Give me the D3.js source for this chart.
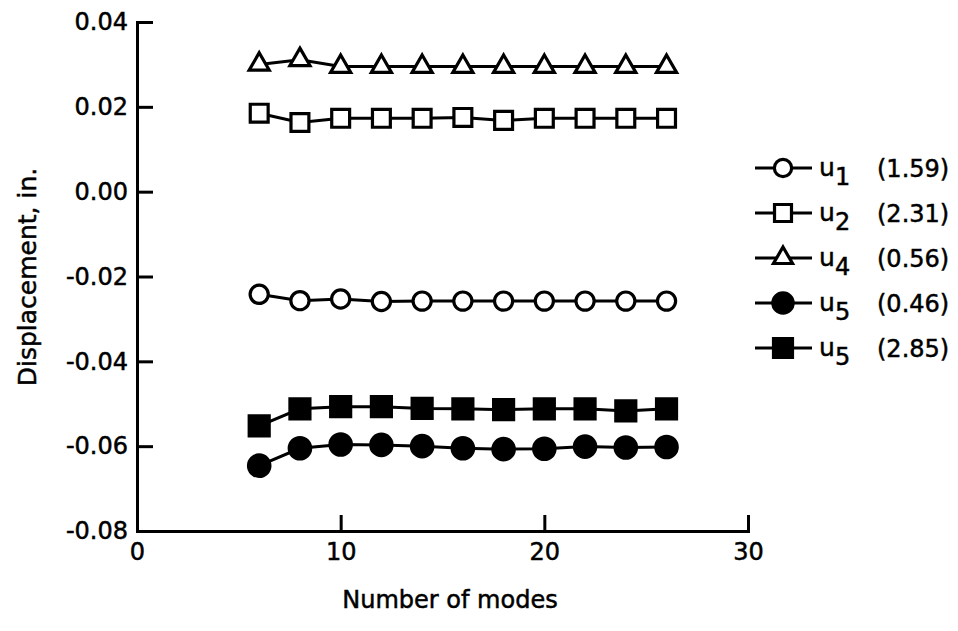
<!DOCTYPE html>
<html>
<head>
    <meta charset="utf-8"/>
    <style>
        body{
            margin: 0;
            background: #fff;
        }
        text{
            font-family: "DejaVu Sans", sans-serif;
            fill: #000;
            stroke: #000;
            stroke-width: 0.5;
        }
        .axis path, .axis line{
            stroke: #000;
            stroke-width: 3;
        }
        .axis text{
            font-size: 24px;
        }
        .series-line{
            fill: none;
            stroke: #000;
            stroke-width: 3;
        }
    </style>
</head>
<body>
<svg id="graph" width="958" height="631"></svg>

<script src="https://d3js.org/d3.v7.min.js"></script>
<script>
    // Number of modes (x values shared by every curve)
    const modes = [6, 8, 10, 12, 14, 16, 18, 20, 22, 24, 26];
    // Displacement values, in.
    const u1_159 = [-0.0242, -0.0257, -0.0253, -0.0259, -0.0258, -0.0258, -0.0258, -0.0258, -0.0258, -0.0258, -0.0258];
    const u2_231 = [0.0185, 0.0163, 0.0173, 0.0173, 0.0173, 0.0175, 0.0168, 0.0173, 0.0173, 0.0173, 0.0173];
    const u4_056 = [0.0300, 0.0311, 0.0295, 0.0295, 0.0295, 0.0295, 0.0295, 0.0295, 0.0295, 0.0295, 0.0295];
    const u5_046 = [-0.0646, -0.0605, -0.0596, -0.0597, -0.0600, -0.0605, -0.0607, -0.0606, -0.0601, -0.0603, -0.0602];
    const u5_285 = [-0.0552, -0.0512, -0.0507, -0.0507, -0.0511, -0.0512, -0.0514, -0.0512, -0.0512, -0.0517, -0.0512];
    // Legend labels
    const legendSubs = ['1', '2', '4', '5', '5'];
    const legendNotes = ['(1.59)', '(2.31)', '(0.56)', '(0.46)', '(2.85)'];
    // Tick values
    const xTicks = [0, 10, 20, 30];
    const yTicks = [0.04, 0.02, 0.00, -0.02, -0.04, -0.06, -0.08];

    // marker style for each series, same order as the legend
    var series = [
        {values: u1_159, type: d3.symbolCircle, size: 260, fill: '#fff'},
        {values: u2_231, type: d3.symbolSquare, size: 320, fill: '#fff'},
        {values: u4_056, type: d3.symbolTriangle, size: 175, fill: '#fff'},
        {values: u5_046, type: d3.symbolCircle, size: 360, fill: '#000'},
        {values: u5_285, type: d3.symbolSquare, size: 400, fill: '#000'}
    ];

    var plotLeft = 137, plotRight = 748, plotTop = 22, plotBottom = 531;

    var svg = d3.select('#graph');

    var xScale = d3.scaleLinear().domain([0, 30]).range([plotLeft, plotRight]);
    var yScale = d3.scaleLinear().domain([-0.08, 0.04]).range([plotBottom, plotTop]);

    // y axis, ticks pointing into the plot
    svg.append('g')
        .attr('class', 'axis')
        .attr('transform', 'translate(' + plotLeft + ',0)')
        .call(d3.axisLeft(yScale)
            .tickValues(yTicks)
            .tickSizeInner(-16)
            .tickSizeOuter(0)
            .tickPadding(9)
            .tickFormat(function(d){ return d.toFixed(2); }));

    // x axis, ticks pointing up
    var xAxis = svg.append('g')
        .attr('class', 'axis')
        .attr('transform', 'translate(0,' + plotBottom + ')')
        .call(d3.axisBottom(xScale)
            .tickValues(xTicks)
            .tickSizeInner(-16)
            .tickSizeOuter(0)
            .tickPadding(12)
            .tickFormat(d3.format('d')));
    // no tick mark at 0 (it sits on the y axis)
    xAxis.selectAll('.tick').filter(function(d){ return d === 0; }).select('line').remove();
    svg.selectAll('.axis path').attr('stroke-linecap', 'square');

    // axis titles
    svg.append('text')
        .attr('x', 450)
        .attr('y', 608)
        .attr('text-anchor', 'middle')
        .style('font-size', '24px')
        .text('Number of modes');

    svg.append('text')
        .attr('transform', 'translate(36,277) rotate(-90)')
        .attr('text-anchor', 'middle')
        .style('font-size', '25px')
        .text('Displacement, in.');

    var line = d3.line()
        .x(function(d, i){ return xScale(modes[i]); })
        .y(function(d){ return yScale(d); });

    // curves and markers
    series.forEach(function(s){
        svg.append('path')
            .attr('class', 'series-line')
            .attr('d', line(s.values));
        svg.selectAll(null)
            .data(s.values)
            .enter().append('path')
            .attr('transform', function(d, i){
                return 'translate(' + xScale(modes[i]) + ',' + yScale(d) + ')';
            })
            .attr('d', d3.symbol().type(s.type).size(s.size))
            .attr('fill', s.fill)
            .attr('stroke', '#000')
            .attr('stroke-width', 3.2);
    });

    // legend
    var legend = svg.append('g').attr('id', 'legend');
    series.forEach(function(s, i){
        var ly = 168 + i * 45;
        var row = legend.append('g').attr('transform', 'translate(0,' + ly + ')');
        row.append('line')
            .attr('x1', 755).attr('x2', 812)
            .attr('stroke', '#000').attr('stroke-width', 3);
        row.append('path')
            .attr('transform', 'translate(783,0)')
            .attr('d', d3.symbol().type(s.type).size(s.size * 0.9))
            .attr('fill', s.fill)
            .attr('stroke', '#000')
            .attr('stroke-width', 3.2);
        row.append('text')
            .attr('x', 819).attr('y', 8)
            .style('font-size', '25px')
            .text('u');
        row.append('text')
            .attr('x', 835).attr('y', 17)
            .style('font-size', '24px')
            .text(legendSubs[i]);
        row.append('text')
            .attr('x', 877).attr('y', 9)
            .style('font-size', '24px')
            .text(legendNotes[i]);
    });
</script>
</body>
</html>
